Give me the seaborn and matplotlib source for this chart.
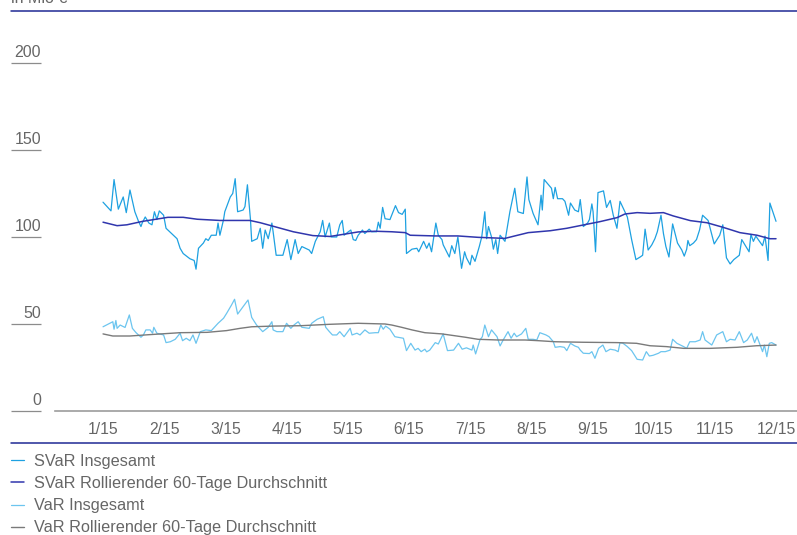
import matplotlib
matplotlib.use("Agg")
import matplotlib.pyplot as plt
import matplotlib.transforms as mtransforms
from matplotlib.lines import Line2D
import seaborn as sns

# month axis: 0 = 1/15 ... 11 = 12/15
months = ["1/15", "2/15", "3/15", "4/15", "5/15", "6/15",
          "7/15", "8/15", "9/15", "10/15", "11/15", "12/15"]

# SVaR Insgesamt (in Mio €)
svar_t = [0.00, 0.13, 0.18, 0.25, 0.33, 0.38, 0.44, 0.52, 0.58, 0.62, 0.64, 0.69, 0.75, 0.80,
          0.84, 0.88, 0.92, 0.99, 1.03, 1.12, 1.21, 1.26, 1.31, 1.42, 1.49, 1.52, 1.56, 1.64,
          1.68, 1.72, 1.77, 1.85, 1.88, 1.91, 1.97, 1.99, 2.08, 2.12, 2.16, 2.20, 2.29, 2.32,
          2.36, 2.41, 2.43, 2.52, 2.57, 2.61, 2.65, 2.70, 2.76, 2.78, 2.83, 2.94, 3.01, 3.07,
          3.14, 3.19, 3.25, 3.37, 3.41, 3.47, 3.55, 3.59, 3.63, 3.70, 3.73, 3.82, 3.87, 3.91,
          3.94, 4.01, 4.05, 4.09, 4.13, 4.17, 4.24, 4.28, 4.35, 4.39, 4.47, 4.50, 4.53, 4.57,
          4.61, 4.69, 4.78, 4.83, 4.89, 4.94, 4.96, 5.05, 5.13, 5.16, 5.24, 5.29, 5.33, 5.37,
          5.44, 5.48, 5.54, 5.56, 5.66, 5.70, 5.75, 5.80, 5.86, 5.91, 5.94, 6.00, 6.03, 6.08,
          6.15, 6.19, 6.24, 6.27, 6.30, 6.35, 6.38, 6.42, 6.45, 6.49, 6.57, 6.65, 6.73, 6.78,
          6.87, 6.93, 6.96, 7.03, 7.11, 7.16, 7.18, 7.21, 7.33, 7.36, 7.39, 7.43, 7.51, 7.55,
          7.61, 7.64, 7.71, 7.77, 7.80, 7.85, 7.92, 7.95, 7.99, 8.01, 8.05, 8.09, 8.18, 8.23,
          8.29, 8.34, 8.40, 8.45, 8.57, 8.64, 8.71, 8.78, 8.82, 8.86, 8.91, 8.97, 9.02, 9.06,
          9.12, 9.16, 9.20, 9.25, 9.31, 9.39, 9.46, 9.50, 9.54, 9.56, 9.59, 9.65, 9.70, 9.75,
          9.80, 9.89, 9.99, 10.08, 10.13, 10.17, 10.19, 10.25, 10.31, 10.40, 10.44, 10.56,
          10.59, 10.63, 10.67, 10.78, 10.82, 10.87, 10.90, 11.00]
svar_total = [120, 115, 133, 116, 123, 114, 127, 114.5, 109, 106, 108, 111.5, 108, 107,
              114.5, 110, 115, 112.5, 105, 102, 99, 93.5, 90.5, 87.5, 86.5, 81.5, 93.5, 96.5,
              99, 98, 101, 101, 108, 101, 110, 114.5, 123, 125, 133.5, 114.5, 115.5, 117.5,
              130, 110, 97.5, 99, 105, 93.5, 104, 99, 108, 103, 89.5, 89.5, 98.5, 87,
              98.5, 90.5, 94.5, 92.5, 90.5, 97.5, 103, 109.5, 100, 108, 100, 100, 107, 109.5,
              101, 103, 104, 98.5, 98, 101, 104, 102, 104.5, 103, 103, 108.5, 105, 117,
              110.5, 110, 118, 114, 113, 116, 90.5, 93, 93.5, 91.5, 97.5, 93.5, 96.5, 91.5,
              108, 101, 98.5, 95.5, 88.5, 95, 90.5, 100, 82, 91.5, 88, 84, 89.5, 86,
              94.5, 100, 114.5, 99, 106, 100, 93, 98.5, 90.5, 101, 97.5, 114.5, 128, 114.5,
              113.5, 134.5, 121.5, 113.5, 107, 124, 115.5, 133, 128, 122, 128.5, 122, 122, 120.5,
              112.5, 119.5, 115.5, 114.5, 121.5, 106, 108, 110, 119, 114.5, 91.5, 125.5, 126.5, 117,
              121, 112.5, 105, 120.5, 111.5, 98.5, 87, 88.5, 89.5, 104.5, 92.5, 95.5, 99, 103,
              112.5, 102, 94.5, 88.5, 107.5, 96.5, 92.5, 89, 93, 98, 95, 96.5, 98.5, 104,
              112.5, 109.5, 96, 101, 107, 94.5, 88, 84.5, 87, 89.5, 98.5, 91.5,
              101.5, 97.5, 100.5, 95, 100.5, 86.5, 119.5, 109]

# SVaR rollierender 60-Tage Durchschnitt
svar_avg_t = [0.00, 0.23, 0.39, 0.65, 1.06, 1.31, 1.54, 1.91, 2.40, 2.57, 2.84, 3.11, 3.43,
              3.71, 3.96, 4.17, 4.45, 4.72, 4.94, 5.02, 5.43, 5.80, 6.13, 6.57, 6.73, 6.95,
              7.31, 7.58, 7.85, 8.12, 8.40, 8.53, 8.73, 8.94, 9.16, 9.32, 9.60, 9.87, 10.13,
              10.41, 10.69, 10.90, 11.00]
svar_avg = [108.5, 106.5, 107, 109, 111.3, 111.3, 110.2, 109.5, 109.5, 108.2, 105.6, 103, 100.8,
            100.3, 101.7, 102.9, 103.3, 103, 102.5, 101, 100.6, 100.6, 99.8, 99.2, 100.6, 102.5,
            103.6, 105, 106.9, 108.8, 111.1, 113.2, 114, 113.6, 114, 112.1, 109.4, 108.2, 105.6,
            102.5, 101, 99, 99]

# VaR Insgesamt
var_t = [0.00, 0.09, 0.16, 0.18, 0.21, 0.23, 0.28, 0.36, 0.43, 0.48, 0.54, 0.62, 0.66, 0.70,
         0.77, 0.81, 0.83, 0.88, 0.99, 1.03, 1.10, 1.18, 1.26, 1.30, 1.36, 1.42, 1.47, 1.52,
         1.59, 1.68, 1.77, 1.88, 1.97, 2.02, 2.10, 2.15, 2.20, 2.27, 2.37, 2.43, 2.51, 2.61,
         2.70, 2.76, 2.78, 2.84, 2.94, 3.00, 3.07, 3.12, 3.19, 3.25, 3.37, 3.41, 3.50, 3.60,
         3.64, 3.70, 3.75, 3.82, 3.87, 3.94, 4.04, 4.07, 4.15, 4.20, 4.28, 4.35, 4.45, 4.50,
         4.54, 4.58, 4.62, 4.69, 4.77, 4.91, 4.96, 5.03, 5.10, 5.15, 5.20, 5.26, 5.29, 5.34,
         5.43, 5.48, 5.56, 5.63, 5.73, 5.81, 5.87, 5.94, 6.03, 6.05, 6.09, 6.16, 6.20, 6.24,
         6.30, 6.35, 6.44, 6.49, 6.54, 6.62, 6.67, 6.72, 6.76, 6.84, 6.91, 6.95, 7.03, 7.09,
         7.14, 7.24, 7.29, 7.36, 7.39, 7.47, 7.54, 7.58, 7.64, 7.71, 7.77, 7.80, 7.85, 7.95,
         7.99, 8.04, 8.10, 8.17, 8.22, 8.29, 8.37, 8.42, 8.45, 8.50, 8.57, 8.64, 8.73, 8.82,
         8.88, 8.93, 8.99, 9.08, 9.12, 9.19, 9.27, 9.31, 9.38, 9.49, 9.54, 9.59, 9.68, 9.76,
         9.80, 9.84, 9.95, 10.03, 10.13, 10.19, 10.25, 10.33, 10.40, 10.47, 10.53, 10.60,
         10.65, 10.69, 10.74, 10.78, 10.81, 10.85, 10.89, 10.93, 11.00]
var_total = [48.4, 50, 51.3, 47, 52, 47.5, 49.4, 48, 55.2, 47.5, 45, 42.4, 43.7, 46.6,
             46.6, 44.7, 48.1, 44.7, 43.7, 39.3, 39.8, 41.2, 44.7, 40.4, 41.8, 40.4, 43.7, 38.9,
             45.6, 46.6, 46.2, 50.4, 53.3, 56.1, 60.9, 64.2, 55.7, 59, 63.8, 53.8, 49.4, 45.6,
             48.1, 51.3, 46.6, 45.6, 45.6, 50.4, 47.5, 49.4, 51.3, 48.1, 47.5, 50.4, 52.7, 54.2,
             48.1, 45.6, 43.7, 43.7, 45.6, 42.7, 47.5, 43.7, 44.7, 43.7, 46.6, 44.7, 45, 45,
             49.4, 47, 48.8, 47, 42.7, 41.8, 34.7, 38.9, 35, 36, 34.1, 35.5, 34, 35,
             39.3, 38.5, 44.3, 34.7, 35, 38.9, 35.5, 36.3, 35, 37.9, 32.8, 40.8, 42.7, 49.4,
             42.7, 46.6, 42.7, 37.4, 40.8, 45.6, 41.8, 44.7, 42.7, 44.3, 47.5, 41.2, 41.2, 40.8,
             45, 43.7, 42.7, 39.8, 36.6, 37, 36.6, 34.7, 38.9, 37.4, 36.6, 35, 33.2, 33,
             34.1, 30.3, 36, 37.9, 34.1, 35.5, 35, 34.1, 39.3, 38.9, 37, 34.7, 29.7, 29.3,
             34.1, 31.6, 32, 33.2, 34.1, 34.1, 35, 41.2, 38.9, 37, 36, 39.8, 39.8, 40.8,
             45.6, 40.8, 37.9, 43.7, 45.6, 39.8, 41.2, 40.8, 45.6, 39.3, 40.8, 44.7,
             39.3, 42.7, 37.9, 34.1, 37.9, 31.2, 38.9, 39.3, 37.9]

# VaR rollierender 60-Tage Durchschnitt
var_avg_t = [0.00, 0.16, 0.44, 0.77, 1.26, 1.70, 2.02, 2.24, 2.43, 2.78, 3.22, 3.69, 4.17,
             4.61, 4.72, 4.88, 5.05, 5.26, 5.54, 5.92, 6.13, 6.46, 6.90, 7.12, 7.39, 7.85,
             8.40, 8.72, 8.94, 9.21, 9.49, 9.92, 10.36, 10.68, 11.00]
var_avg = [44.3, 43.1, 43.1, 43.9, 45, 45.2, 46.2, 47.5, 48.4, 48.8, 49, 49.8, 50.4,
           50, 49.4, 48.1, 46.6, 45, 44.3, 42.4, 41.2, 40.8, 40.8, 40.4, 39.8, 39.5,
           39.3, 38.9, 37.5, 37, 36, 36, 36.6, 37.5, 37.9]

y_ticks = [0, 50, 100, 150, 200]

W, H = 797, 535
sns.set_style("white")
plt.rcParams["font.family"] = ["Liberation Sans", "DejaVu Sans"]

fig = plt.figure(figsize=(W / 100, H / 100), dpi=100)
ax = fig.add_axes([55 / W, 124 / H, 742 / W, 371 / H])

sns.lineplot(x=svar_t, y=svar_total, color="#1ea1e1", lw=0.9, estimator=None,
             label="SVaR Insgesamt", ax=ax)
sns.lineplot(x=svar_avg_t, y=svar_avg, color="#3036ad", lw=1.1, estimator=None,
             label="SVaR Rollierender 60-Tage Durchschnitt", ax=ax)
sns.lineplot(x=var_t, y=var_total, color="#6cc5ef", lw=0.9, estimator=None,
             label="VaR Insgesamt", ax=ax)
sns.lineplot(x=var_avg_t, y=var_avg, color="#7a7a7a", lw=1.0, estimator=None,
             label="VaR Rollierender 60-Tage Durchschnitt", ax=ax)

ax.set_xlim(-0.785, 11.343)
ax.set_ylim(0, 213.2)
ax.set_xlabel("")
ax.set_ylabel("")

for s in ["top", "right", "left"]:
    ax.spines[s].set_visible(False)
ax.spines["bottom"].set_color("#9c9c9c")
ax.spines["bottom"].set_linewidth(1.2)
ax.spines["left"].set_position(("outward", 10.1))

ax.set_xticks(range(len(months)))
ax.set_xticklabels(months)
ax.tick_params(axis="x", length=0, pad=8, labelsize=11.3, labelcolor="#666666")

ax.set_yticks(y_ticks)
ax.set_yticklabels([str(v) for v in y_ticks])
ax.tick_params(axis="y", left=True, length=21.6, width=0.9, color="#8c8c8c", pad=-21.6,
               labelsize=11.5, labelcolor="#666666", direction="out")
# labels sit just above their underline
lift = mtransforms.ScaledTranslation(0, 3 / 100, fig.dpi_scale_trans)
for lbl in ax.get_yticklabels():
    lbl.set_verticalalignment("bottom")
    lbl.set_transform(lbl.get_transform() + lift)

# frame lines above the chart and above the legend
fig.add_artist(Line2D([11 / W, 1], [1 - 11 / H, 1 - 11 / H], color="#1f2a94", lw=1.1))
fig.add_artist(Line2D([11 / W, 1], [1 - 443 / H, 1 - 443 / H], color="#1f2a94", lw=1.1))
fig.text(11 / W, 1 - 3 / H, "in Mio €", fontsize=11.5, color="#666666", va="baseline")

handles, labels = ax.get_legend_handles_labels()
ax.get_legend().remove()
fig.legend(handles, labels, loc="upper left", bbox_to_anchor=(11 / W, 1 - 454 / H),
           frameon=False, fontsize=11.7, handlelength=0.8, handletextpad=0.62,
           labelspacing=0.44, borderpad=0, borderaxespad=0, labelcolor="#666666")

fig.savefig("out.png", dpi=100)
